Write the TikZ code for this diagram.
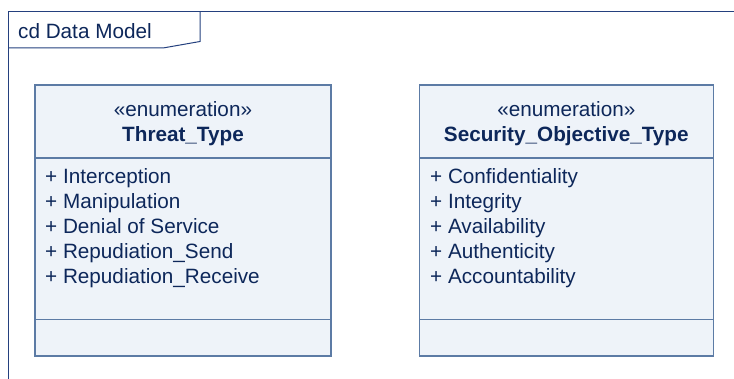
\documentclass[tikz,border=0pt]{standalone}
\usepackage{fontspec}
\setmainfont{Liberation Sans}
\definecolor{txt}{HTML}{0D275A}
\definecolor{frm}{HTML}{24407E}
\definecolor{bord}{HTML}{5C7BA5}
\definecolor{fil}{HTML}{EEF3F9}
\begin{document}
\begin{tikzpicture}[x=1pt,y=-1pt,
  lbl/.style={inner sep=0pt,anchor=base,text=txt,font=\fontsize{20.7}{24}\selectfont},
  item/.style={lbl,anchor=base west},
  cls/.style={draw=bord,fill=fil,line width=1.2pt},
  sep/.style={draw=bord,line width=1.2pt}]
\useasboundingbox (0,0) rectangle (734,379);
% frame
\draw[frm,line width=1.3pt] (8.5,385) -- (8.5,11.5) -- (740,11.5);
\draw[frm,line width=1pt] (8.5,48) -- (163,48) -- (200,41.5) -- (200,11.5);
\node[lbl,anchor=base west] (title) at (18,38.5) {cd Data Model};
% box 1
\path[cls] (35,85) rectangle (331,356);
\draw[sep] (35,158) -- (331,158);
\draw[sep] (35,319.5) -- (331,319.5);
\node[lbl] (s1) at (183,117) {«enumeration»};
\node[lbl,font=\fontsize{20.7}{24}\selectfont\bfseries] (n1) at (183,141.7) {Threat\_Type};
\node[item] (a1) at (45,184) {+ Interception};
\node[item] (a2) at (45,208.8) {+ Manipulation};
\node[item] (a3) at (45,233.6) {+ Denial of Service};
\node[item] (a4) at (45,258.4) {+ Repudiation\_Send};
\node[item] (a5) at (45,283.2) {+ Repudiation\_Receive};
% box 2
\path[cls] (419.3,85) rectangle (713.3,356);
\draw[sep] (419.3,158) -- (713.3,158);
\draw[sep] (419.3,319.5) -- (713.3,319.5);
\node[lbl] (s2) at (566.3,117) {«enumeration»};
\node[lbl,font=\fontsize{20.7}{24}\selectfont\bfseries] (n2) at (566.3,141.7) {Security\_Objective\_Type};
\node[item] (b1) at (430,184) {+ Confidentiality};
\node[item] (b2) at (430,208.8) {+ Integrity};
\node[item] (b3) at (430,233.6) {+ Availability};
\node[item] (b4) at (430,258.4) {+ Authenticity};
\node[item] (b5) at (430,283.2) {+ Accountability};
\end{tikzpicture}
\end{document}
